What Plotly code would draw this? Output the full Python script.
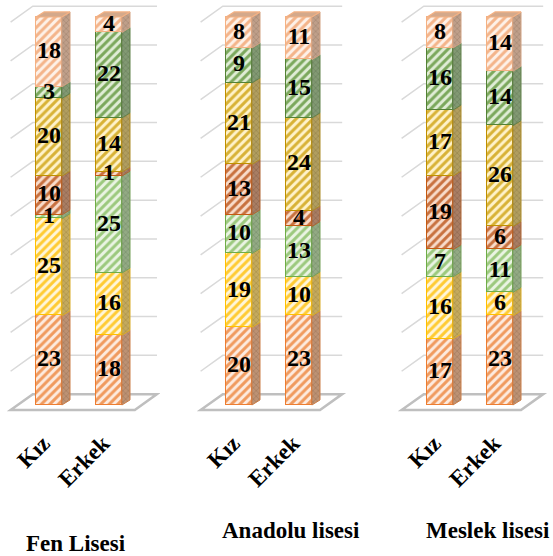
import plotly.graph_objects as go

W, H = 553, 556

schools = ["Fen Lisesi", "Anadolu lisesi", "Meslek lisesi"]
genders = ["Kız", "Erkek"]

# Percentage shares of the seven answer groups, stacked bottom to top.
# Order inside each list: Fen Kız, Fen Erkek, Anadolu Kız, Anadolu Erkek, Meslek Kız, Meslek Erkek
group_1 = [23, 18, 20, 23, 17, 23]
group_2 = [25, 16, 19, 10, 16, 6]
group_3 = [1, 25, 10, 13, 7, 11]
group_4 = [10, 1, 13, 4, 19, 6]
group_5 = [20, 14, 21, 24, 17, 26]
group_6 = [3, 22, 9, 15, 16, 14]
group_7 = [18, 4, 8, 11, 8, 14]
series = [group_1, group_2, group_3, group_4, group_5, group_6, group_7]

grid_levels = list(range(10, 101, 10))

# ---- styling -------------------------------------------------------------
edge = ["#ED7D31", "#FFC000", "#70AD47", "#C55A11", "#BF9000", "#548235", "#F4B183"]
stripe = ["#F09A5E", "#FFCB33", "#9CC97E", "#C8713F", "#D8B236", "#7BA85C", "#F4B48A"]
pale = ["#FDEBDF", "#FFF6DA", "#EAF4E3", "#F8DCCB", "#FFF2CA", "#E0EDD6", "#FEF1E8"]


def blend(c1, c2, t):
    a = [int(c1[i:i + 2], 16) for i in (1, 3, 5)]
    b = [int(c2[i:i + 2], 16) for i in (1, 3, 5)]
    return "#" + "".join(f"{round(x + (y - x) * t):02X}" for x, y in zip(a, b))


FONT = "Liberation Serif, Times New Roman, Times, serif"
BAR_W = 0.43          # front face width, category units
SIDE_DX = 0.135       # depth offset of the side faces
SIDE_DY = 1.3
PX_X = 60.0           # pixels per category step
PX_Y = 3.88           # pixels per percentage point
ZERO_PX = 405.0
Y_RANGE = [-6.0, 104.3]
X_RANGE = [-0.75, 1.85]
centers_px = [49, 239, 440]
wall_right = [1.8, 1.72, 1.72]
WALL_LEFT = -0.27
GRID_SHIFT = 2.8
WALL_DX, WALL_DY = 0.37, 4.1

fig = go.Figure()

y_dom = [1 - (ZERO_PX - Y_RANGE[0] * PX_Y) / H, 1 - (ZERO_PX - Y_RANGE[1] * PX_Y) / H]

shapes = []
for p in range(3):
    sx = "" if p == 0 else str(p + 1)
    xa, ya = "x" + sx, "y" + sx
    cols = [2 * p, 2 * p + 1]
    xs = [0, 1]

    # back wall gridlines with their diagonal run along the left wall
    L, R = WALL_LEFT, wall_right[p]
    for lv in grid_levels:
        y = lv + GRID_SHIFT
        shapes.append(dict(type="path", xref=xa, yref=ya, layer="below",
                           path=f"M {L - WALL_DX},{y - WALL_DY} L {L},{y} L {R},{y}",
                           line=dict(color="#D9D9D9", width=1.5)))
    g = GRID_SHIFT
    shapes.append(dict(type="path", xref=xa, yref=ya, layer="below",
                       path=(f"M {L},{g} L {R},{g} L {R - WALL_DX},{g - WALL_DY} "
                             f"L {L - WALL_DX},{g - WALL_DY} Z"),
                       line=dict(color="#BFBFBF", width=2.5), fillcolor="rgba(0,0,0,0)"))

    base = [0, 0]
    tx, ty, tt = [], [], []
    for k, s in enumerate(series):
        vals = [s[c] for c in cols]
        fig.add_trace(go.Bar(
            x=xs, y=vals, base=base[:], width=BAR_W, xaxis=xa, yaxis=ya,
            marker=dict(color=pale[k], line=dict(color=edge[k], width=1.5),
                        pattern=dict(shape="/", fgcolor=stripe[k], bgcolor=pale[k],
                                     size=6, solidity=0.5, fillmode="replace")),
            showlegend=False, hoverinfo="skip"))

        # right-hand side faces of each segment
        px_, py_ = [], []
        for j in range(2):
            xr = xs[j] + BAR_W / 2
            y0, y1 = base[j], base[j] + vals[j]
            px_ += [xr, xr, xr + SIDE_DX, xr + SIDE_DX, xr, None]
            py_ += [y0, y1, y1 + SIDE_DY, y0 + SIDE_DY, y0, None]
        fig.add_trace(go.Scatter(
            x=px_, y=py_, xaxis=xa, yaxis=ya, mode="lines", fill="toself",
            fillcolor=blend(stripe[k], "#6E6E6E", 0.5),
            fillpattern=dict(shape="x", fgcolor=blend(stripe[k], "#404040", 0.55),
                             bgcolor=blend(stripe[k], "#8A8A8A", 0.5), size=4, solidity=0.35),
            line=dict(color=blend(edge[k], "#7F7F7F", 0.3), width=1),
            showlegend=False, hoverinfo="skip"))

        for j in range(2):
            tx.append(xs[j])
            ty.append(base[j] + vals[j] / 2)
            tt.append(str(vals[j]))
        base = [base[j] + vals[j] for j in range(2)]

    # top faces of the columns
    tpx, tpy = [], []
    for j in range(2):
        xl, xr = xs[j] - BAR_W / 2, xs[j] + BAR_W / 2
        tpx += [xl, xr, xr + SIDE_DX, xl + SIDE_DX, xl, None]
        tpy += [base[j], base[j], base[j] + SIDE_DY, base[j] + SIDE_DY, base[j], None]
    fig.add_trace(go.Scatter(
        x=tpx, y=tpy, xaxis=xa, yaxis=ya, mode="lines", fill="toself",
        fillcolor=blend(edge[6], "#9A9A9A", 0.35),
        line=dict(color=edge[6], width=1.2), showlegend=False, hoverinfo="skip"))

    fig.add_trace(go.Scatter(
        x=tx, y=ty, text=tt, mode="text", xaxis=xa, yaxis=ya,
        textfont=dict(family=FONT, size=24, color="#000000", weight="bold"),
        textposition="middle center", showlegend=False, hoverinfo="skip"))

    c = centers_px[p]
    x_dom = [(c + X_RANGE[0] * PX_X) / W, (c + X_RANGE[1] * PX_X) / W]
    fig.layout["xaxis" + sx] = dict(
        domain=x_dom, range=X_RANGE, anchor=ya, tickvals=xs, ticktext=genders,
        tickangle=-45, showgrid=False, zeroline=False, showline=False, ticks="",
        ticklabelshift=-6, ticklabelstandoff=-4,
        tickfont=dict(family=FONT, size=23, color="#000000", weight="bold"))
    fig.layout["yaxis" + sx] = dict(
        domain=y_dom, range=Y_RANGE, anchor=xa, visible=False, showgrid=False)

title_px = [(76, 543), (291, 530), (488, 530)]
annotations = [dict(text=name, x=cx / W, y=1 - cy / H, xref="paper", yref="paper",
                    xanchor="center", yanchor="middle", showarrow=False,
                    font=dict(family=FONT, size=23, color="#000000", weight="bold"))
               for name, (cx, cy) in zip(schools, title_px)]

fig.update_layout(
    width=W, height=H, margin=dict(l=0, r=0, t=0, b=0),
    paper_bgcolor="#FFFFFF", plot_bgcolor="rgba(0,0,0,0)",
    barmode="stack", bargap=0, shapes=shapes, annotations=annotations,
    showlegend=False)

fig.write_html("out.html")
